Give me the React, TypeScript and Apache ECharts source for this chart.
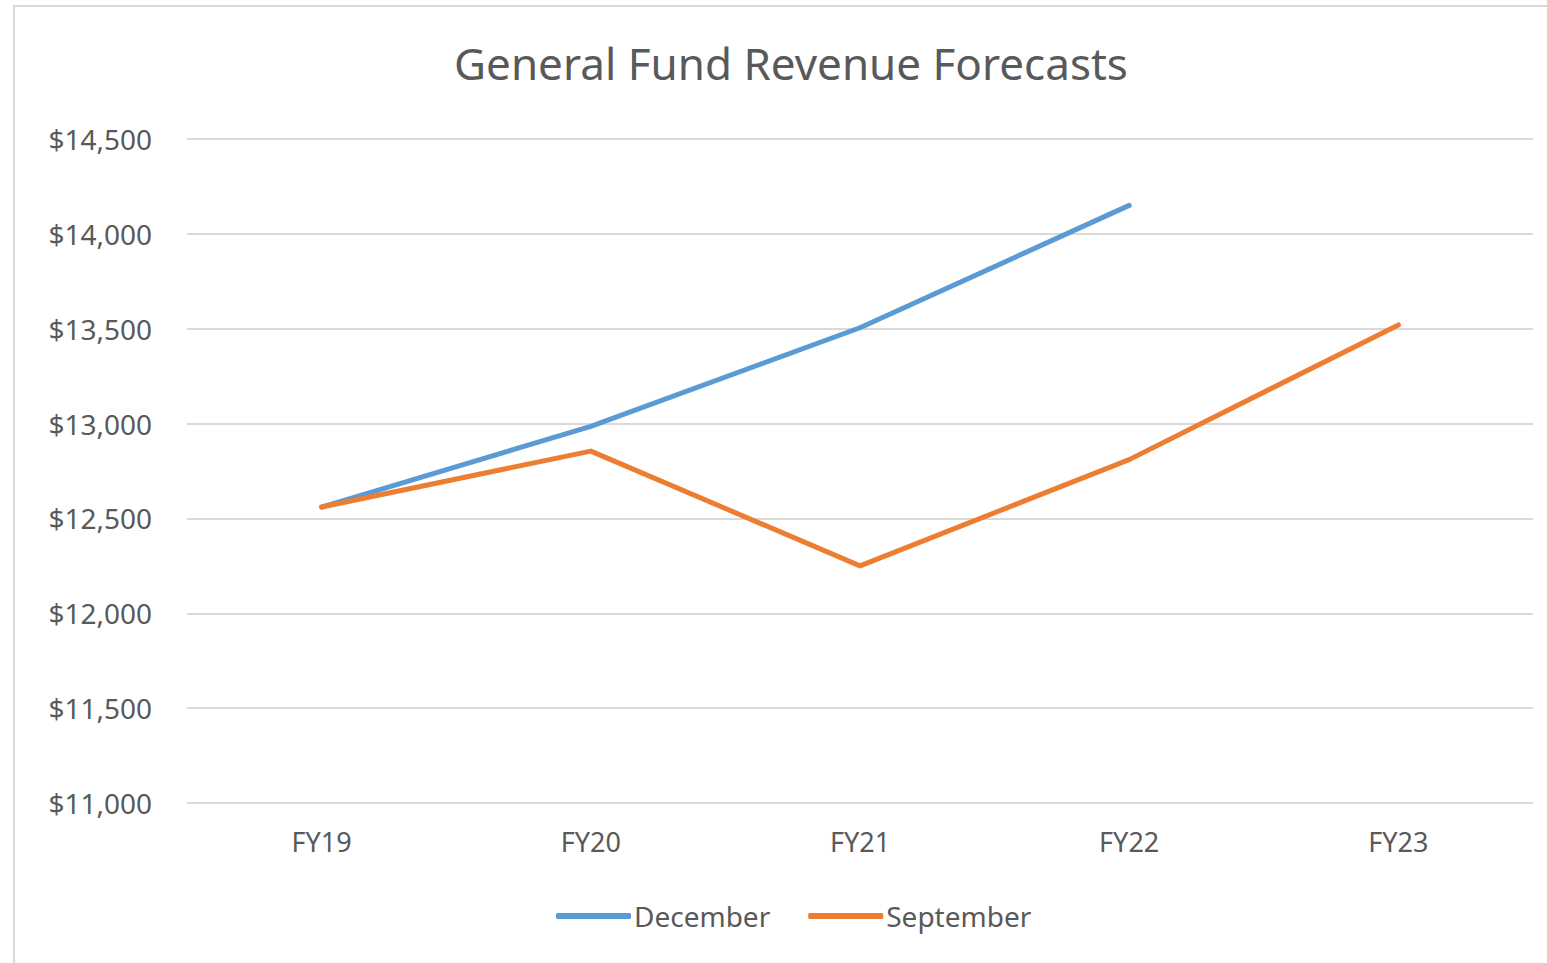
import React, { useEffect, useRef } from "react";
import * as echarts from "echarts";

const categories = ["FY19", "FY20", "FY21", "FY22", "FY23"];
const december: (number | null)[] = [12560, 12985, 13505, 14150, null];
const september: number[] = [12560, 12855, 12250, 12810, 13520];
const yMin = 11000;
const yMax = 14500;
const yStep = 500;

const FONT = "'Noto Sans', 'Open Sans', sans-serif";
const GREY = "#595959";

export default function App() {
  const ref = useRef<HTMLDivElement>(null);
  useEffect(() => {
    if (!ref.current) return;
    const chart = echarts.init(ref.current, undefined, { renderer: "svg" });
    chart.setOption({
      animation: false,
      backgroundColor: "#ffffff",
      textStyle: { fontFamily: FONT },
      title: {
        text: "General Fund Revenue Forecasts",
        left: 786,
        top: 36,
        textAlign: "center",
        textStyle: { fontFamily: FONT, fontSize: 44, fontWeight: "normal", color: GREY },
      },
      graphic: [
        {
          type: "rect",
          shape: { x: 14, y: 6, width: 1700, height: 1100 },
          style: { fill: "none", stroke: "#d9d9d9", lineWidth: 2 },
          silent: true,
        },
      ],
      grid: { left: 187, right: 14, top: 139, bottom: 160, containLabel: false },
      legend: {
        bottom: 28,
        left: 551,
        data: ["December", "September"],
        icon: "roundRect",
        itemWidth: 75,
        itemHeight: 6,
        itemGap: 38,
        textStyle: { fontFamily: FONT, fontSize: 28, color: GREY, padding: [0, 0, 0, -2] },
      },
      xAxis: {
        type: "category",
        data: categories,
        boundaryGap: true,
        axisLine: { show: false },
        axisTick: { show: false },
        axisLabel: { fontFamily: FONT, fontSize: 27, color: GREY, margin: 25 },
      },
      yAxis: {
        type: "value",
        min: yMin,
        max: yMax,
        interval: yStep,
        axisLine: { show: false },
        axisTick: { show: false },
        splitLine: { lineStyle: { color: "#d9d9d9", width: 2 } },
        axisLabel: {
          fontFamily: FONT,
          fontSize: 28,
          color: GREY,
          margin: 35,
          padding: [0, 0, 6, 0],
          formatter: (v: number) => "$" + v.toLocaleString("en-US"),
        },
      },
      series: [
        {
          name: "December",
          type: "line",
          data: december,
          symbol: "none",
          color: "#5b9bd5",
          lineStyle: { width: 5, color: "#5b9bd5", cap: "round", join: "round" },
        },
        {
          name: "September",
          type: "line",
          data: september,
          symbol: "none",
          color: "#ed7d31",
          lineStyle: { width: 5, color: "#ed7d31", cap: "round", join: "round" },
        },
      ],
    });
    return () => chart.dispose();
  }, []);
  return (
    <div
      ref={ref}
      style={{ position: "fixed", left: 0, top: 0, width: 1547, height: 963 }}
    />
  );
}
